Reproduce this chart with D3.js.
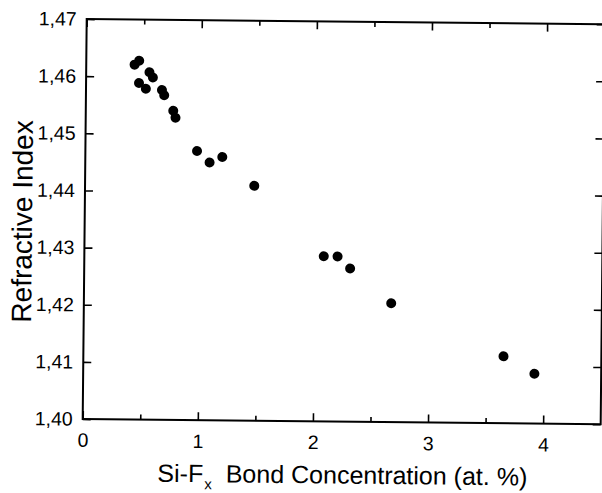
<!DOCTYPE html>
<html><head><meta charset="utf-8">
<script src="https://cdn.jsdelivr.net/npm/d3@7"></script>
<style>body{margin:0;background:#fff} svg{display:block}</style>
</head><body><svg id="c" width="602" height="493"></svg>
<script>
// Data
const xValues = [0.42, 0.46, 0.46, 0.52, 0.55, 0.58, 0.66, 0.68, 0.76, 0.78, 0.97, 1.08, 1.19, 1.47, 2.08, 2.20, 2.31, 2.67, 3.65, 3.92];
const yValues = [1.4621, 1.4628, 1.4589, 1.4579, 1.4608, 1.4599, 1.4577, 1.4568, 1.4541, 1.4529, 1.4471, 1.4451, 1.4461, 1.4411, 1.4289, 1.4289, 1.4268, 1.4208, 1.4117, 1.4087];
const xTicks = [0, 1, 2, 3, 4];
const xMinorTicks = [0.5, 1.5, 2.5, 3.5];
const yTicks = [1.40, 1.41, 1.42, 1.43, 1.44, 1.45, 1.46, 1.47];
const yTickLabels = ["1,40", "1,41", "1,42", "1,43", "1,44", "1,45", "1,46", "1,47"];
const xTitleMain = "Si-F";
const xTitleSub = "x";
const xTitleRest = "Bond Concentration (at. %)";
const yTitle = "Refractive Index";

const W = 602, H = 493;
const ox = 82.7, oy = 419, pw = 518, ph = 400;
const FONT = "'Liberation Sans', Arial, Helvetica, sans-serif";

const x = d3.scaleLinear().domain([0, 4.5]).range([0, pw]);
const y = d3.scaleLinear().domain([1.40, 1.47]).range([ph, 0]);

const svg = d3.select("#c");
svg.append("rect").attr("width", W).attr("height", H).attr("fill", "#fff");
const g = svg.append("g")
  .attr("transform", `rotate(0.573 ${ox} ${oy}) translate(${ox},${oy - ph})`);

function styleAxis(sel) {
  sel.select(".domain").remove();
  sel.attr("font-family", FONT).attr("font-size", 19.5);
  sel.selectAll(".tick line").attr("stroke", "#000").attr("stroke-width", 1.6);
  sel.selectAll(".tick text").attr("fill", "#000");
}

// bottom axis
g.append("g").attr("transform", `translate(0,${ph})`)
  .call(d3.axisBottom(x).tickValues(xTicks).tickSize(-8).tickPadding(14).tickFormat(d3.format("d")))
  .call(styleAxis);
g.append("g").attr("transform", `translate(0,${ph})`)
  .call(d3.axisBottom(x).tickValues(xMinorTicks).tickSize(-5).tickFormat(""))
  .call(styleAxis);
// top axis
g.append("g")
  .call(d3.axisTop(x).tickValues(xTicks).tickSize(-8).tickFormat(""))
  .call(styleAxis);
g.append("g")
  .call(d3.axisTop(x).tickValues(xMinorTicks).tickSize(-5).tickFormat(""))
  .call(styleAxis);
// left axis
g.append("g")
  .call(d3.axisLeft(y).tickValues(yTicks).tickSize(-8).tickPadding(10).tickFormat((d, i) => yTickLabels[i]))
  .call(styleAxis);
// right axis
g.append("g").attr("transform", `translate(${pw},0)`)
  .call(d3.axisRight(y).tickValues(yTicks).tickSize(-8).tickFormat(""))
  .call(styleAxis);

// frame
g.append("rect").attr("x", 0).attr("y", 0).attr("width", pw).attr("height", ph)
  .attr("fill", "none").attr("stroke", "#000").attr("stroke-width", 2);

// points
g.append("g").selectAll("circle")
  .data(xValues.map((v, i) => [v, yValues[i]]))
  .join("circle")
  .attr("cx", d => x(d[0]))
  .attr("cy", d => y(d[1]))
  .attr("r", 5)
  .attr("fill", "#000");

// x title
const xt = g.append("text")
  .attr("x", 158 - ox).attr("y", 481 - (oy - ph))
  .attr("font-family", FONT).attr("font-size", 25).attr("fill", "#000");
xt.append("tspan").text(xTitleMain);
xt.append("tspan").attr("font-size", 15).attr("dy", 7).attr("dx", 1).text(xTitleSub);
xt.append("tspan").attr("dy", -7).attr("dx", 14).text(xTitleRest);

// y title
g.append("text")
  .attr("transform", `translate(${32 - ox - 2},${222 - (oy - ph)}) rotate(-90)`)
  .attr("text-anchor", "middle")
  .attr("font-family", FONT).attr("font-size", 28).attr("fill", "#000")
  .text(yTitle);
</script>
</body></html>
